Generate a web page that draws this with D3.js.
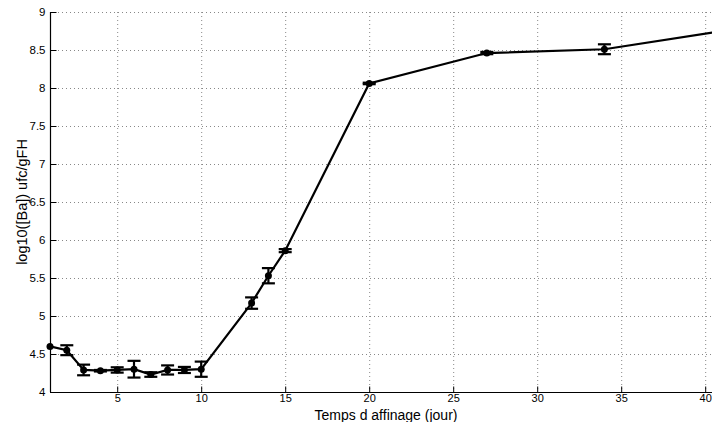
<!DOCTYPE html>
<html><head><meta charset="utf-8">
<script src="https://cdn.jsdelivr.net/npm/d3@7"></script>
<style>body{margin:0;background:#fff;overflow:hidden}svg{display:block}</style>
</head><body><svg id="c" width="712" height="422"></svg>
<script>
const days = [1,2,3,4,5,6,7,8,9,10,13,14,15,20,27,34,41];
const logBa = [4.60,4.55,4.29,4.28,4.29,4.30,4.23,4.29,4.29,4.30,5.17,5.53,5.86,8.06,8.46,8.51,8.75];
const errs = [0.0,0.065,0.07,0.01,0.035,0.11,0.03,0.06,0.04,0.1,0.075,0.1,0.02,0.01,0.015,0.065,0.0];
const xTicks = [5,10,15,20,25,30,35,40];
const yTicks = [4,4.5,5,5.5,6,6.5,7,7.5,8,8.5,9];
const xTitle = "Temps d affinage (jour)";
const yTitle = "log10([Ba]) ufc/gFH";

const svg = d3.select("#c");
const L=50, R=722, T=12, B=392;
const x = d3.scaleLinear().domain([1,41]).range([L,R]);
const y = d3.scaleLinear().domain([4,9]).range([B,T]);
const font = "'Liberation Sans', Arial, sans-serif";

// grid
const g = svg.append("g");
g.selectAll(".gx").data(xTicks).join("line")
  .attr("x1",d=>x(d)+0.5).attr("x2",d=>x(d)+0.5).attr("y1",T).attr("y2",B)
  .attr("stroke","#888").attr("stroke-width",1).attr("stroke-dasharray","1,3");
g.selectAll(".gy").data(yTicks.filter(d=>d>4)).join("line")
  .attr("x1",L).attr("x2",R).attr("y1",d=>Math.round(y(d))+0.5).attr("y2",d=>Math.round(y(d))+0.5)
  .attr("stroke","#888").attr("stroke-width",1).attr("stroke-dasharray","1,3");

// axes
const xAxis = d3.axisBottom(x).tickValues(xTicks).tickSize(-6).tickPadding(2).tickFormat(d3.format("d"));
const yAxis = d3.axisLeft(y).tickValues(yTicks).tickSize(-6).tickPadding(5).tickFormat(d=>String(d));
const ax = svg.append("g").attr("transform",`translate(0,${B+0.5})`).call(xAxis);
const ay = svg.append("g").attr("transform",`translate(${L+0.5},0)`).call(yAxis);
[ax,ay].forEach(a=>{
  a.select(".domain").attr("stroke","#000").attr("stroke-width",1.2);
  a.selectAll(".tick line").attr("stroke","#000");
  a.selectAll("text").attr("font-family",font).attr("font-size",11.5).attr("fill","#000");
});
ax.selectAll("text").attr("font-size",11);
ax.select(".domain").attr("d",`M${L},0H${R}`);
ay.select(".domain").attr("d",`M0,${B}V${T}`);

// line
const data = days.map((d,i)=>({d, v:logBa[i], e:errs[i]}));
const pg = svg.append("g");
pg.append("path").datum(data)
  .attr("d", d3.line().x(p=>x(p.d)).y(p=>y(p.v)))
  .attr("fill","none").attr("stroke","#000").attr("stroke-width",2.2);
// error bars
const eb = pg.selectAll(".eb").data(data.filter(p=>p.e>0)).join("g");
eb.append("line").attr("x1",p=>x(p.d)).attr("x2",p=>x(p.d)).attr("y1",p=>y(p.v+p.e)).attr("y2",p=>y(p.v-p.e))
  .attr("stroke","#000").attr("stroke-width",2.2);
eb.append("line").attr("x1",p=>x(p.d)-6.5).attr("x2",p=>x(p.d)+6.5).attr("y1",p=>y(p.v+p.e)).attr("y2",p=>y(p.v+p.e))
  .attr("stroke","#000").attr("stroke-width",2.2);
eb.append("line").attr("x1",p=>x(p.d)-6.5).attr("x2",p=>x(p.d)+6.5).attr("y1",p=>y(p.v-p.e)).attr("y2",p=>y(p.v-p.e))
  .attr("stroke","#000").attr("stroke-width",2.2);
pg.selectAll("circle").data(data).join("circle")
  .attr("cx",p=>x(p.d)).attr("cy",p=>y(p.v)).attr("r",3.5).attr("fill","#000");

// titles
svg.append("text").attr("x",(L+R)/2).attr("y",419.5).attr("text-anchor","middle")
  .attr("font-family",font).attr("font-size",14).text(xTitle);
svg.append("text").attr("transform",`translate(27,${(T+B)/2}) rotate(-90)`).attr("text-anchor","middle")
  .attr("font-family",font).attr("font-size",14.5).text(yTitle);
</script></body></html>
